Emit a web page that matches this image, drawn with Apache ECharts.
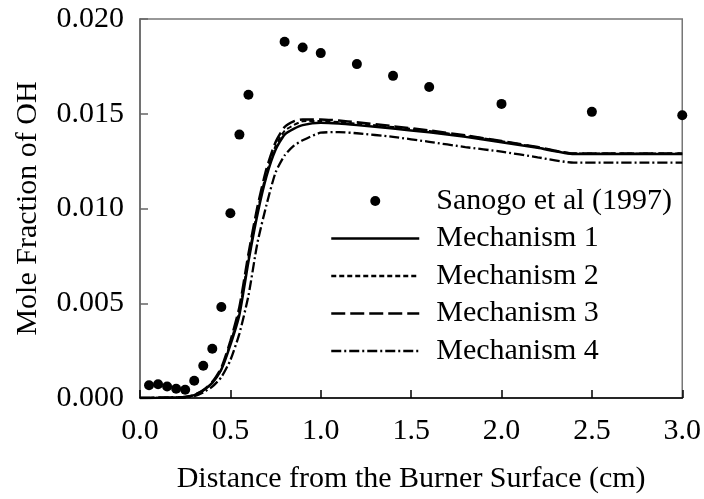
<!DOCTYPE html>
<html>
<head>
<meta charset="utf-8">
<script src="https://cdn.jsdelivr.net/npm/echarts@6/dist/echarts.min.js"></script>
<style>html,body{margin:0;padding:0;background:#fff}#c{width:704px;height:499px}</style>
</head>
<body>
<div id="c"></div>
<script>
var expX = [0.05,0.1,0.15,0.2,0.25,0.3,0.35,0.4,0.45,0.5,0.55,0.6,0.8,0.9,1.0,1.2,1.4,1.6,2.0,2.5,3.0];
var expY = [0.00067,0.00073,0.00061,0.00049,0.00044,0.00091,0.0017,0.0026,0.0048,0.00975,0.0139,0.016,0.0188,0.0185,0.0182,0.01762,0.0170,0.01641,0.01552,0.0151,0.01492];

var modelX = [0,0.1,0.2,0.25,0.3,0.35,0.4,0.45,0.5,0.55,0.6,0.65,0.7,0.75,0.8,0.85,0.9,1.0,1.1,1.2,1.4,1.6,1.8,2.0,2.2,2.4,2.6,2.8,3.0];
var mech1 = [0,0.00001,0.00003,0.00005,0.00015,0.0004,0.0008,0.0015,0.0028,0.0044,0.0072,0.0097,0.0117,0.0131,0.0139,0.0142,0.0144,0.01452,0.01448,0.0144,0.01422,0.01402,0.01378,0.0135,0.0132,0.01288,0.01288,0.01288,0.01288];
var mech2 = [0,0.00001,0.00003,0.00005,0.00015,0.0004,0.0008,0.0015,0.0029,0.0046,0.0074,0.0099,0.0119,0.0133,0.0141,0.0144,0.0146,0.01462,0.01456,0.01448,0.0143,0.01409,0.01384,0.01355,0.01323,0.0129,0.0129,0.0129,0.0129];
var mech3 = [0,0.00001,0.00003,0.00005,0.00016,0.00042,0.00085,0.0016,0.0030,0.0048,0.0076,0.0101,0.0121,0.0135,0.0143,0.0146,0.0147,0.0147,0.01464,0.01455,0.01434,0.01412,0.01386,0.01356,0.01324,0.0129,0.0129,0.0129,0.0129];
var mech4 = [0,0.00001,0.00002,0.00004,0.0001,0.0003,0.0006,0.0011,0.002,0.0034,0.0054,0.0082,0.0102,0.0119,0.0128,0.0133,0.0136,0.014,0.01403,0.01397,0.01378,0.01352,0.01324,0.013,0.0127,0.01242,0.01242,0.01242,0.01242];

var seriesNames = ['Sanogo et al (1997)','Mechanism 1','Mechanism 2','Mechanism 3','Mechanism 4'];

function pairs(xs, ys){ return xs.map(function(x,i){ return [x, ys[i]]; }); }

var FONT = 'Liberation Serif';
var FS = 30;
var chart = echarts.init(document.getElementById('c'), null, {renderer:'canvas'});
function lineSeries(name, data, type, w){
  return {
    name: name, type: 'line', data: pairs(modelX, data), symbol: 'none', showSymbol: false, smooth: 0.2,
    lineStyle: {color: '#000', width: w, type: type},
    itemStyle: {color: '#000'}, z: 2
  };
}
function legendLine(name){
  return {name: name, itemStyle: {opacity: 0}};
}
chart.setOption({
  animation: false,
  backgroundColor: '#fff',
  grid: {left: 140, top: 19, width: 544, height: 381, show: true, borderColor: '#777', borderWidth: 1.5, backgroundColor: 'transparent'},
  xAxis: {
    type: 'value', min: 0, max: 3, interval: 0.5,
    name: 'Distance from the Burner Surface (cm)', nameLocation: 'middle', nameGap: 66,
    nameTextStyle: {fontFamily: FONT, fontSize: FS, color: '#000'},
    axisLine: {show: true, onZero: false, lineStyle: {color: '#000', width: 1.5}},
    axisTick: {show: true, inside: true, length: 8, lineStyle: {color: '#000', width: 1.5}},
    axisLabel: {fontFamily: FONT, fontSize: FS, color: '#000', margin: 18, formatter: function(v){return v.toFixed(1);}},
    splitLine: {show: false}
  },
  yAxis: {
    type: 'value', min: 0, max: 0.02, interval: 0.005,
    name: 'Mole Fraction of OH', nameLocation: 'middle', nameGap: 97,
    nameTextStyle: {fontFamily: FONT, fontSize: FS, color: '#000'},
    axisLine: {show: true, onZero: false, lineStyle: {color: '#666', width: 1.5}},
    axisTick: {show: true, inside: true, length: 8, lineStyle: {color: '#666', width: 1.5}},
    axisLabel: {fontFamily: FONT, fontSize: FS, color: '#000', margin: 16, formatter: function(v){return v.toFixed(3);}},
    splitLine: {show: false}
  },
  legend: {
    orient: 'vertical', left: 330, top: 186, padding: 0, itemWidth: 88, itemHeight: 10, itemGap: 7.5,
    textStyle: {fontFamily: FONT, fontSize: FS, color: '#000', lineHeight: 30, padding: [0,0,0,12]},
    lineStyle: {width: 2.5},
    data: [{name: seriesNames[0], icon: 'circle', itemStyle: {opacity: 1}}, legendLine(seriesNames[1]), legendLine(seriesNames[2]), legendLine(seriesNames[3]), legendLine(seriesNames[4])]
  },
  series: [
    {name: seriesNames[0], type: 'scatter', data: pairs(expX, expY), symbol: 'circle', symbolSize: 10, clip: false,
     itemStyle: {color: '#000', opacity: 1}, z: 3},
    lineSeries(seriesNames[1], mech1, 'solid', 2.5),
    lineSeries(seriesNames[2], mech2, [5,3], 2),
    lineSeries(seriesNames[3], mech3, [14,5], 2.5),
    lineSeries(seriesNames[4], mech4, [10,3,2,3], 2.3)
  ]
});
</script>
</body>
</html>
